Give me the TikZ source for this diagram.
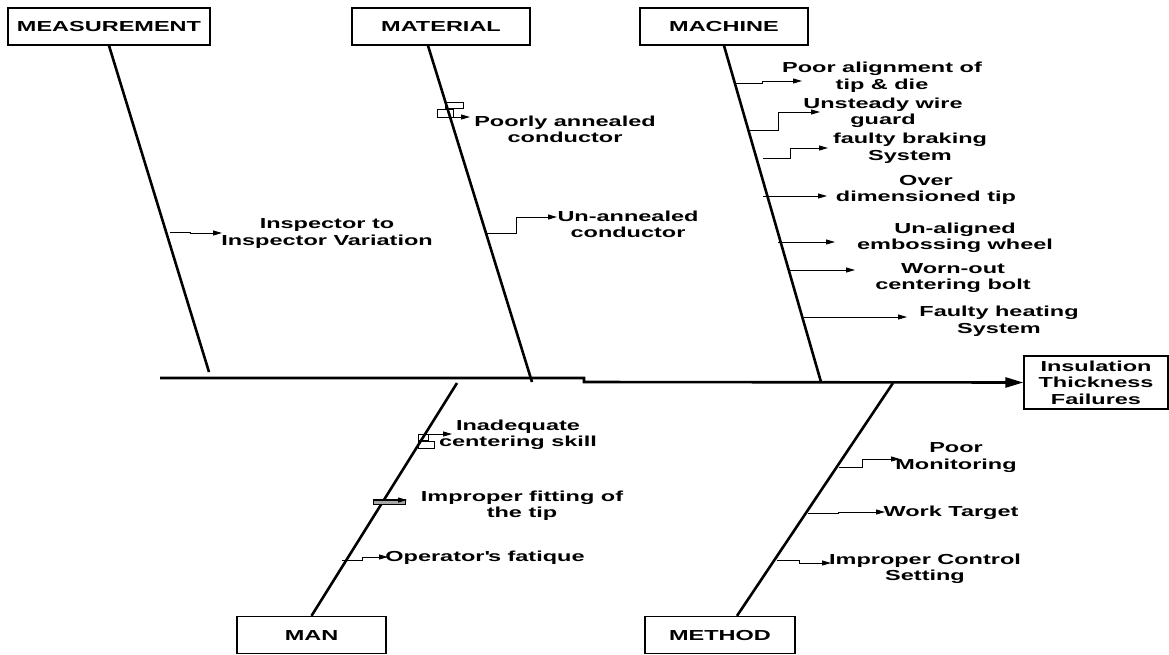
\documentclass[tikz,border=0pt]{standalone}
\usepackage{fontspec}
\setmainfont{Liberation Sans}[FakeStretch=1.62]
\usetikzlibrary{arrows.meta}
\begin{document}
\begin{tikzpicture}[x=1pt,y=-1pt,
  box/.style={draw,line width=1.3pt,minimum height=37pt,inner sep=0pt,
    font=\bfseries\fontsize{14.5}{16.5}\selectfont},
  lbl/.style={font=\bfseries\fontsize{14.5}{16.5}\selectfont,align=center,inner sep=0pt},
  bone/.style={line width=2.6pt},
  cause/.style={line width=0.9pt,-{Triangle[length=9pt,width=5pt]}},
  loopbox/.style={line width=0.8pt}]
\useasboundingbox (0,0) rectangle (1169,654);

% category boxes
\node[box,minimum width=202pt] (meas) at (109,26.5) {MEASUREMENT};
\node[box,minimum width=178pt] (mat) at (441,26.5) {MATERIAL};
\node[box,minimum width=168pt] (mac) at (724,26.5) {MACHINE};
\node[box,minimum width=149pt] (man) at (311.5,635) {MAN};
\node[box,minimum width=150pt] (meth) at (720,635) {METHOD};
\node[box,minimum width=144pt,minimum height=53pt,align=center] (ins) at (1096,382.5) {Insulation\\Thickness\\Failures};

% spine
\coordinate (s0) at (160,378);
\draw[line width=2.6pt,-{Triangle[length=18pt,width=10pt]}] (s0) -- (584,378) -- (584,382) -- (ins.west);

% bones
\coordinate (bmeas) at (209,372);
\coordinate (bmat) at (532,382);
\coordinate (bmac) at (821,382);
\coordinate (bman) at (457,383);
\coordinate (bmeth) at (893,383);
\draw[bone] (meas.south) -- (bmeas);
\draw[bone] ([xshift=-13pt]mat.south) -- (bmat);
\draw[bone] (mac.south) -- (bmac);
\draw[bone] (bman) -- (man.north);
\draw[bone] (bmeth) -- ([xshift=17pt]meth.north);

% measurement cause
\node[lbl] (c1) at (327,233.5) {Inspector to\\Inspector Variation};
\draw[cause] (170,232) -- (190,232) -- (190,233) -- (222,233);

% material causes
\node[lbl] (c2) at (565,129.5) {Poorly annealed\\conductor};
\draw[loopbox] (445,102) rectangle (463,108);
\draw[loopbox] (437,109) rectangle (453,117);
\draw[cause] (453,117) -- (470,117);
\node[lbl] (c3) at (628,224.5) {Un-annealed\\conductor};
\draw[cause] (487,233) -- (516,233) -- (516,217) -- (557,217);

% machine causes
\node[lbl] (c4) at (882,77) {Poor alignment of\\tip \& die};
\draw[cause] (735,83) -- (762,83) -- (762,81) -- (802,81);
\node[lbl] (c5) at (883,113) {Unsteady wire\\guard};
\draw[cause] (750,130) -- (778,130) -- (778,112) -- (820,112);
\node[lbl] (c6) at (910,148) {faulty braking\\System};
\draw[cause] (763,158) -- (790,158) -- (790,148) -- (828,148);
\node[lbl] (c7) at (926,190) {Over\\dimensioned tip};
\draw[cause] (763,196) -- (827,196);
\node[lbl] (c8) at (955,238) {Un-aligned\\embossing wheel};
\draw[cause] (778,242) -- (835,242);
\node[lbl] (c9) at (953,278) {Worn-out\\centering bolt};
\draw[cause] (790,270) -- (855,270);
\node[lbl] (c10) at (999,321) {Faulty heating\\System};
\draw[cause] (804,317) -- (907,317);

% man causes
\node[lbl] (c11) at (518,435) {Inadequate\\centering skill};
\draw[loopbox] (418,434) rectangle (428,440);
\draw[cause] (418,434) -- (452,434);
\draw[loopbox] (418,441) rectangle (434,448);
\node[lbl] (c12) at (522,505.5) {Improper fitting of\\the tip};
\draw[loopbox,fill=gray!70] (373,499) rectangle (405,504);
\draw[cause] (373,500) -- (407,500);
\node[lbl] (c13) at (485,558) {Operator\textquotesingle s fatique};
\draw[cause] (342,560) -- (362,560) -- (362,557) -- (388,557);

% method causes
\node[lbl] (c14) at (956,457.5) {Poor\\Monitoring};
\draw[cause] (839,467) -- (862,467) -- (862,459) -- (900,459);
\node[lbl] (c15) at (951,513) {Work Target};
\draw[cause] (808,513) -- (838,513) -- (838,512) -- (885,512);
\node[lbl] (c16) at (925,569) {Improper Control\\Setting};
\draw[cause] (777,560) -- (799,560) -- (799,563) -- (831,563);
\end{tikzpicture}
\end{document}
